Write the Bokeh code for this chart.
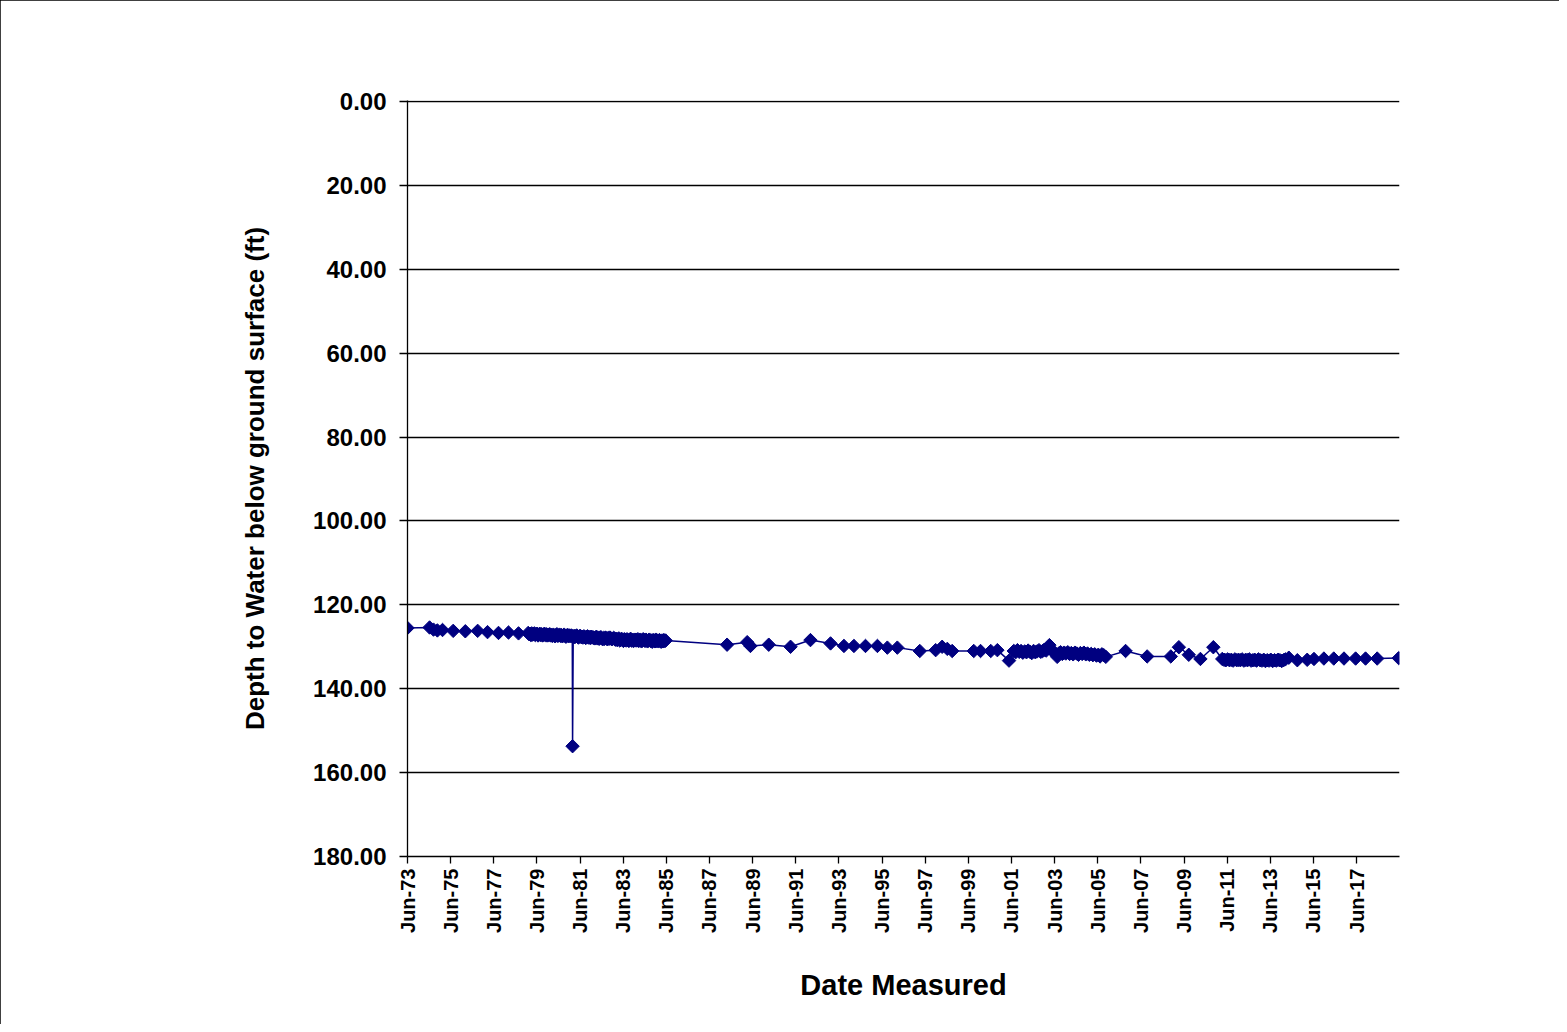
import pandas as pd
from math import pi
from bokeh.plotting import figure
from bokeh.models import Range1d, FixedTicker, DatetimeTickFormatter, NumeralTickFormatter
from bokeh.embed import file_html
from bokeh.resources import INLINE

# ---------------- data ----------------
early_dates = [
    "1973-06-01", "1974-06-10", "1974-08-15", "1974-10-20", "1975-01-15",
    "1975-07-15", "1976-02-05", "1976-09-01", "1977-02-15", "1977-08-20",
    "1978-02-05", "1978-07-25",
]
early_depth = [125.5, 125.4, 125.9, 126.1, 126.0, 126.2, 126.3, 126.2, 126.5, 126.7, 126.6, 126.8]

# dense record 1979-1985 (about twice a month)
dense80_dates = [
    "1979-01-05", "1979-01-20", "1979-02-05", "1979-02-20", "1979-03-05", "1979-03-20",
    "1979-04-05", "1979-04-20", "1979-05-05", "1979-05-20", "1979-06-05", "1979-06-20",
    "1979-07-05", "1979-07-20", "1979-08-05", "1979-08-20", "1979-09-05", "1979-09-20",
    "1979-10-05", "1979-10-20", "1979-11-05", "1979-11-20", "1979-12-05", "1979-12-20",
    "1980-01-05", "1980-01-20", "1980-02-05", "1980-02-20", "1980-03-05", "1980-03-20",
    "1980-04-05", "1980-04-20", "1980-05-05", "1980-05-20", "1980-06-05", "1980-06-20",
    "1980-07-05", "1980-07-20", "1980-08-05", "1980-08-20", "1980-09-05", "1980-09-20",
    "1980-10-05", "1980-10-20", "1980-11-05", "1980-11-20", "1980-12-05", "1980-12-20",
    "1981-01-05", "1981-01-20", "1981-01-25", "1981-02-05", "1981-02-20", "1981-03-05",
    "1981-03-20", "1981-04-05", "1981-04-20", "1981-05-05", "1981-05-20", "1981-06-05",
    "1981-06-20", "1981-07-05", "1981-07-20", "1981-08-05", "1981-08-20", "1981-09-05",
    "1981-09-20", "1981-10-05", "1981-10-20", "1981-11-05", "1981-11-20", "1981-12-05",
    "1981-12-20",
    "1982-01-05", "1982-01-20", "1982-02-05", "1982-02-20", "1982-03-05", "1982-03-20",
    "1982-04-05", "1982-04-20", "1982-05-05", "1982-05-20", "1982-06-05", "1982-06-20",
    "1982-07-05", "1982-07-20", "1982-08-05", "1982-08-20", "1982-09-05", "1982-09-20",
    "1982-10-05", "1982-10-20", "1982-11-05", "1982-11-20", "1982-12-05", "1982-12-20",
    "1983-01-05", "1983-01-20", "1983-02-05", "1983-02-20", "1983-03-05", "1983-03-20",
    "1983-04-05", "1983-04-20", "1983-05-05", "1983-05-20", "1983-06-05", "1983-06-20",
    "1983-07-05", "1983-07-20", "1983-08-05", "1983-08-20", "1983-09-05", "1983-09-20",
    "1983-10-05", "1983-10-20", "1983-11-05", "1983-11-20", "1983-12-05", "1983-12-20",
    "1984-01-05", "1984-01-20", "1984-02-05", "1984-02-20", "1984-03-05", "1984-03-20",
    "1984-04-05", "1984-04-20", "1984-05-05", "1984-05-20", "1984-06-05", "1984-06-20",
    "1984-07-05", "1984-07-20", "1984-08-05", "1984-08-20", "1984-09-05", "1984-09-20",
    "1984-10-05", "1984-10-20", "1984-11-05", "1984-11-20", "1984-12-05", "1984-12-20",
    "1985-01-05", "1985-01-20", "1985-02-05", "1985-02-20", "1985-03-05", "1985-03-20",
    "1985-04-05", "1985-04-20", "1985-05-05", "1985-05-20",
]
dense80_depth = [
    126.7, 127.0, 126.9, 127.2, 126.8, 127.1, 127.0, 126.8, 127.2, 127.0, 126.9, 127.3,
    127.1, 126.9, 127.2, 127.0, 127.3, 127.1, 126.9, 127.2, 127.0, 127.3, 127.1, 127.2,
    127.0, 127.3, 127.2, 127.4, 127.1, 127.3, 127.5, 127.2, 127.0, 127.4, 127.3, 127.1,
    127.4, 127.2, 127.5, 127.3, 127.1, 127.4, 127.6, 127.3, 127.2, 127.5, 127.3, 127.4,
    127.3, 127.5, 153.7, 127.6, 127.4, 127.7, 127.5, 127.3, 127.6, 127.8, 127.5, 127.4,
    127.7, 127.6, 127.8, 127.5, 127.7, 127.9, 127.6, 127.5, 127.8, 127.7, 127.9, 127.6,
    127.8,
    127.7, 127.9, 128.0, 127.8, 127.6, 128.0, 127.9, 128.1, 127.8, 127.7, 128.0, 128.2,
    127.9, 128.1, 127.8, 128.0, 128.2, 127.9, 128.1, 127.8, 128.0, 128.2, 128.1, 127.9,
    128.0, 128.3, 128.1, 128.4, 128.2, 128.0, 128.5, 128.3, 128.1, 128.4, 128.6, 128.2,
    128.3, 128.5, 128.2, 128.4, 128.6, 128.3, 128.1, 128.5, 128.4, 128.6, 128.3, 128.5,
    128.3, 128.5, 128.2, 128.6, 128.4, 128.3, 128.7, 128.5, 128.2, 128.4, 128.6, 128.3,
    128.5, 128.7, 128.4, 128.3, 128.6, 128.5, 128.8, 128.4, 128.5, 128.7, 128.3, 128.6,
    128.5, 128.7, 128.4, 128.6, 128.8, 128.5, 128.7, 128.4, 128.6, 128.5,
]

mid_dates = [
    "1988-03-25", "1989-03-01", "1989-04-25", "1990-03-01", "1991-03-05",
    "1992-02-05", "1993-01-10", "1993-08-25", "1994-02-10", "1994-08-25",
    "1995-03-15", "1995-08-30", "1996-02-15", "1997-03-01", "1997-11-25",
    "1998-03-15", "1998-06-10", "1998-09-01", "1999-09-01", "1999-12-25",
    "2000-06-15", "2000-10-05", "2001-04-20",
]
mid_depth = [
    129.5, 128.9, 129.8, 129.5, 130.0,
    128.4, 129.2, 129.8, 129.8, 129.8,
    129.8, 130.2, 130.2, 131.0, 130.8,
    130.0, 130.5, 131.0, 131.0, 131.0,
    131.0, 130.8, 133.3,
]

# dense record 2001-2005 (about monthly)
dense03_dates = [
    "2001-07-10", "2001-08-10", "2001-09-10", "2001-10-10", "2001-11-10", "2001-12-10",
    "2002-01-10", "2002-02-10", "2002-03-10", "2002-04-10", "2002-05-10", "2002-06-10",
    "2002-07-10", "2002-08-10", "2002-09-10", "2002-10-10", "2002-11-10", "2002-12-10",
    "2003-01-10", "2003-02-10", "2003-03-05", "2003-04-10", "2003-05-10", "2003-06-10",
    "2003-07-15", "2003-08-10", "2003-09-10", "2003-10-10", "2003-11-10", "2003-12-10",
    "2004-01-10", "2004-02-10", "2004-03-10", "2004-04-10", "2004-05-10", "2004-06-10",
    "2004-07-10", "2004-08-10", "2004-09-10", "2004-10-10", "2004-11-10", "2004-12-10",
    "2005-01-10", "2005-02-10", "2005-03-10", "2005-04-10", "2005-05-10", "2005-06-10",
    "2005-07-10", "2005-08-10", "2005-09-10", "2005-10-15",
]
dense03_depth = [
    131.0, 131.3, 130.8, 131.2, 131.0, 131.4,
    131.1, 131.3, 130.9, 131.2, 131.5, 131.0,
    131.3, 131.1, 130.8, 131.2, 131.0, 130.7,
    130.9, 130.3, 129.6, 130.8, 131.2, 131.5,
    132.4, 131.6, 131.3, 131.7, 131.4, 131.6,
    131.3, 131.7, 131.5, 131.8, 131.4, 131.6,
    131.9, 131.5, 131.7, 131.4, 131.8, 131.6,
    131.9, 131.7, 132.0, 131.8, 132.1, 131.9,
    132.3, 131.8, 132.0, 132.4,
]

late_dates = [
    "2006-09-15", "2007-09-15", "2008-10-20", "2009-03-05", "2009-08-20",
    "2010-03-05", "2010-10-10",
    "2011-03-10", "2011-04-10", "2011-05-10", "2011-06-10", "2011-07-10", "2011-08-10",
    "2011-09-10", "2011-10-10", "2011-11-10", "2011-12-10",
    "2012-01-10", "2012-02-10", "2012-03-10", "2012-04-10", "2012-05-10", "2012-06-10",
    "2012-07-10", "2012-08-10", "2012-09-10", "2012-10-10", "2012-11-10", "2012-12-10",
    "2013-01-10", "2013-02-10", "2013-03-10", "2013-04-10", "2013-05-10", "2013-06-10",
    "2013-07-10", "2013-08-10", "2013-09-10", "2013-10-10", "2013-11-10", "2013-12-10",
    "2014-01-10", "2014-02-10", "2014-04-10", "2014-09-01", "2015-02-15", "2015-06-10",
    "2015-11-25", "2016-05-10", "2016-10-30", "2017-05-15", "2017-10-30", "2018-05-15",
    "2019-05-15",
]
late_depth = [
    131.0, 132.3, 132.3, 130.1, 131.9,
    132.9, 130.1,
    132.9, 133.1, 133.2, 133.0, 133.2, 133.1,
    133.3, 133.0, 133.2, 133.1,
    133.2, 133.0, 133.3, 133.1, 133.2, 133.0,
    133.3, 133.2, 133.1, 133.3, 133.0, 133.2,
    133.3, 133.1, 133.4, 133.2, 133.3, 133.1,
    133.4, 133.2, 133.3, 133.1, 133.2, 133.4,
    133.2, 133.0, 132.6, 133.2, 133.1, 132.9,
    132.8, 132.8, 132.8, 132.8, 132.8, 132.8,
    132.7,
]

tick_dates = ["%d-06-01" % yr for yr in range(1973, 2019, 2)]
depth_ticks = [0, 20, 40, 60, 80, 100, 120, 140, 160, 180]

x_start = "1973-06-01"
x_end = "2019-05-28"

measure_dates = early_dates + dense80_dates + mid_dates + dense03_dates + late_dates
depth_ft = early_depth + dense80_depth + mid_depth + dense03_depth + late_depth

# ---------------- figure ----------------
NAVY = "#000080"
FONT = "Liberation Sans"
W, H = 1559, 1024

p = figure(
    width=W, height=H,
    x_axis_type="datetime",
    x_range=Range1d(pd.Timestamp(x_start), pd.Timestamp(x_end)),
    y_range=Range1d(180, -0.25),
    output_backend="svg", toolbar_location=None,
    min_border_left=407, min_border_right=W - 1399,
    min_border_top=100, min_border_bottom=H - 856,
    background_fill_color="white", border_fill_color="white",
)
p.outline_line_color = None
p.styles = {"outline": "2px solid black", "outline-offset": "-2px"}

xs = pd.to_datetime(measure_dates)
p.line(xs, depth_ft, line_color=NAVY, line_width=1.5)
p.scatter(xs, depth_ft, marker="square", angle=pi / 4, size=9.5,
          fill_color=NAVY, line_color=NAVY)

# x axis
tick_ms = [pd.Timestamp(d).timestamp() * 1000 for d in tick_dates]
xa = p.xaxis[0]
xa.ticker = FixedTicker(ticks=tick_ms)
fmt = "%b-%y"
xa.formatter = DatetimeTickFormatter(
    microseconds=fmt, milliseconds=fmt, seconds=fmt, minsec=fmt, minutes=fmt,
    hourmin=fmt, hours=fmt, days=fmt, months=fmt, years=fmt)
xa.major_label_orientation = pi / 2
xa.major_label_text_font = FONT
xa.major_label_text_font_style = "bold"
xa.major_label_text_font_size = "20px"
xa.major_label_text_color = "black"
xa.major_label_standoff = 5
xa.major_tick_out = 7
xa.major_tick_in = 0
xa.minor_tick_out = 0
xa.minor_tick_in = 0
xa.axis_line_color = "black"
xa.axis_line_width = 1.3
xa.major_tick_line_color = "black"
xa.major_tick_line_width = 1.3
xa.axis_label = "Date Measured"
xa.axis_label_text_font = FONT
xa.axis_label_text_font_style = "bold"
xa.axis_label_text_font_size = "29px"
xa.axis_label_text_color = "black"
xa.axis_label_standoff = 33

# y axis
ya = p.yaxis[0]
ya.ticker = FixedTicker(ticks=depth_ticks)
ya.formatter = NumeralTickFormatter(format="0.00")
ya.major_label_text_font = FONT
ya.major_label_text_font_style = "bold"
ya.major_label_text_font_size = "24px"
ya.major_label_text_color = "black"
ya.major_label_standoff = 13
ya.major_tick_out = 8
ya.major_tick_in = 0
ya.minor_tick_out = 0
ya.minor_tick_in = 0
ya.axis_line_color = "black"
ya.axis_line_width = 1.3
ya.major_tick_line_color = "black"
ya.major_tick_line_width = 1.3
ya.axis_label = "Depth to Water below ground surface (ft)"
ya.axis_label_text_font = FONT
ya.axis_label_text_font_style = "bold"
ya.axis_label_text_font_size = "26px"
ya.axis_label_text_color = "black"
ya.axis_label_standoff = 40

p.xgrid.visible = False
p.ygrid.ticker = FixedTicker(ticks=depth_ticks)
p.ygrid.grid_line_color = "black"
p.ygrid.grid_line_width = 1.3

open("out.html", "w").write(file_html(p, INLINE))
